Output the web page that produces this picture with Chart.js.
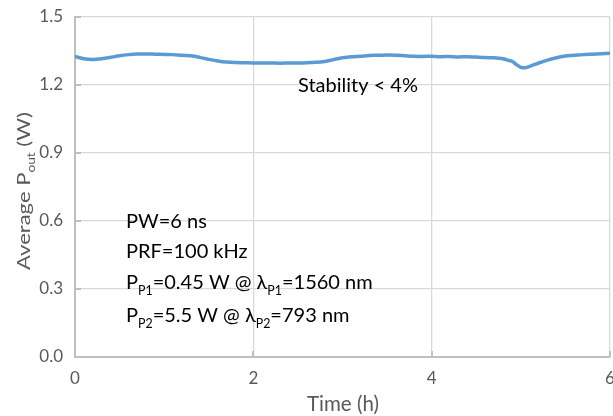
<!DOCTYPE html>
<html><head><meta charset="utf-8">
<script src="https://cdn.jsdelivr.net/npm/chart.js@4/dist/chart.umd.min.js"></script>
<style>html,body{margin:0;padding:0;background:#fff}#wrap{width:613px;height:416px;position:relative}</style>
</head><body><div id="wrap"><canvas id="c"></canvas></div>
<script>
const times = [0.0,0.1,0.2,0.3,0.4,0.5,0.6,0.7,0.8,0.9,1.0,1.1,1.2,1.3,1.4,1.5,1.6,1.7,1.8,1.9,2.0,2.1,2.2,2.3,2.4,2.5,2.6,2.7,2.8,2.9,3.0,3.1,3.2,3.3,3.4,3.5,3.6,3.7,3.8,3.9,4.0,4.1,4.2,4.3,4.4,4.5,4.6,4.7,4.8,4.85,4.9,4.95,5.0,5.05,5.1,5.2,5.3,5.4,5.5,5.6,5.7,5.8,5.9,6.0];
const power = [1.326,1.316,1.313,1.316,1.322,1.329,1.334,1.337,1.337,1.336,1.335,1.334,1.331,1.329,1.322,1.313,1.306,1.301,1.299,1.298,1.297,1.297,1.297,1.296,1.297,1.297,1.298,1.300,1.304,1.312,1.320,1.325,1.327,1.330,1.331,1.332,1.331,1.329,1.327,1.326,1.327,1.325,1.326,1.324,1.325,1.323,1.321,1.320,1.316,1.310,1.305,1.290,1.278,1.276,1.282,1.297,1.310,1.320,1.328,1.331,1.334,1.336,1.338,1.340];
const xTicks = [0,2,4,6];
const yTicks = [0.0,0.3,0.6,0.9,1.2,1.5];
const xTitle = "Time (h)";
const stabilityText = "Stability < 4%";

const FONT = "Lato, 'Open Sans', sans-serif";
function drawRich(ctx, x, y, parts, size, color){
  ctx.save();
  ctx.fillStyle = color;
  ctx.textBaseline = 'alphabetic';
  ctx.textAlign = 'left';
  let cx = x;
  for (const p of parts){
    const sub = p.sub;
    const fs = sub ? size*0.62 : size;
    ctx.font = fs + 'px ' + FONT;
    ctx.fillText(p.t, cx, sub ? y + size*0.3 : y);
    cx += ctx.measureText(p.t).width;
  }
  ctx.restore();
  return cx - x;
}
function richWidth(ctx, parts, size){
  let w = 0;
  ctx.save();
  for (const p of parts){ ctx.font = (p.sub? size*0.62:size)+'px '+FONT; w += ctx.measureText(p.t).width; }
  ctx.restore();
  return w;
}
const textPlugin = {
  id:'texts',
  beforeDatasetsDraw(chart){
    // inside tick marks
    const ctx = chart.ctx;
    const xs = chart.scales.x, ys = chart.scales.y;
    ctx.save();
    ctx.strokeStyle = '#bfbfbf'; ctx.lineWidth = 2;
    xTicks.forEach(v=>{const px = Math.round(xs.getPixelForValue(v)); ctx.beginPath(); ctx.moveTo(px, ys.bottom); ctx.lineTo(px, ys.bottom-6); ctx.stroke();});
    yTicks.forEach(v=>{const py = Math.round(ys.getPixelForValue(v)); ctx.beginPath(); ctx.moveTo(xs.left, py); ctx.lineTo(xs.left+6, py); ctx.stroke();});
    ctx.restore();
  },
  afterDraw(chart){
    const ctx = chart.ctx;
    const xs = chart.scales.x, ys = chart.scales.y;
    // x title
    ctx.save();
    ctx.font = '20.5px ' + FONT; ctx.fillStyle = '#595959'; ctx.textAlign='center'; ctx.textBaseline='alphabetic';
    ctx.fillText(xTitle, 343, 411);
    ctx.restore();
    // y title rotated
    const yparts = [{t:'Average P'},{t:'out',sub:true},{t:' (W)'}];
    ctx.save();
    ctx.translate(30, 191);
    ctx.rotate(-Math.PI/2);
    const w = richWidth(ctx, yparts, 18);
    ctx.scale(158/w, 1);
    drawRich(ctx, -w/2, 0, yparts, 18, '#595959');
    ctx.restore();
    // annotations
    const ax = 126;
    drawRich(ctx, 298, 92, [{t:stabilityText}], 20, '#000');
    drawRich(ctx, ax, 228, [{t:'PW=6 ns'}], 20, '#000');
    drawRich(ctx, ax, 258, [{t:'PRF=100 kHz'}], 20, '#000');
    drawRich(ctx, ax, 289, [{t:'P'},{t:'P1',sub:true},{t:'=0.45 W @ λ'},{t:'P1',sub:true},{t:'=1560 nm'}], 20, '#000');
    drawRich(ctx, ax, 322, [{t:'P'},{t:'P2',sub:true},{t:'=5.5 W @ λ'},{t:'P2',sub:true},{t:'=793 nm'}], 20, '#000');
  }
};

new Chart(document.getElementById('c'), {
  type:'scatter',
  data:{datasets:[{data: times.map((t,i)=>({x:t,y:power[i]})), showLine:true, borderColor:'#5B9BD5', borderWidth:3.5, pointRadius:0, tension:0.3, fill:false}]},
  options:{
    responsive:true, maintainAspectRatio:false, animation:false,
    layout:{padding:{top:17,right:3,left:0,bottom:0}},
    plugins:{legend:{display:false},tooltip:{enabled:false}},
    scales:{
      x:{type:'linear',min:0,max:6,
        afterBuildTicks(s){s.ticks = xTicks.map(v=>({value:v}));},
        afterFit(s){s.height = 59; s.paddingLeft = 0; s.paddingRight = 0;},
        grid:{color:'#d9d9d9',lineWidth:1.3,drawTicks:false},
        border:{color:'#bfbfbf',width:2},
        ticks:{padding:11,color:'#595959',font:{family:FONT,size:17},callback:v=>String(v),maxRotation:0}},
      y:{min:0,max:1.5,
        afterBuildTicks(s){s.ticks = yTicks.map(v=>({value:v}));},
        afterFit(s){s.width = 75; s.paddingTop = 0; s.paddingBottom = 0;},
        grid:{color:'#d9d9d9',lineWidth:1.3,drawTicks:false},
        border:{color:'#bfbfbf',width:2},
        ticks:{padding:12,color:'#595959',font:{family:FONT,size:17},callback:v=>v.toFixed(1)}}
    }
  },
  plugins:[textPlugin]
});
</script></body></html>
